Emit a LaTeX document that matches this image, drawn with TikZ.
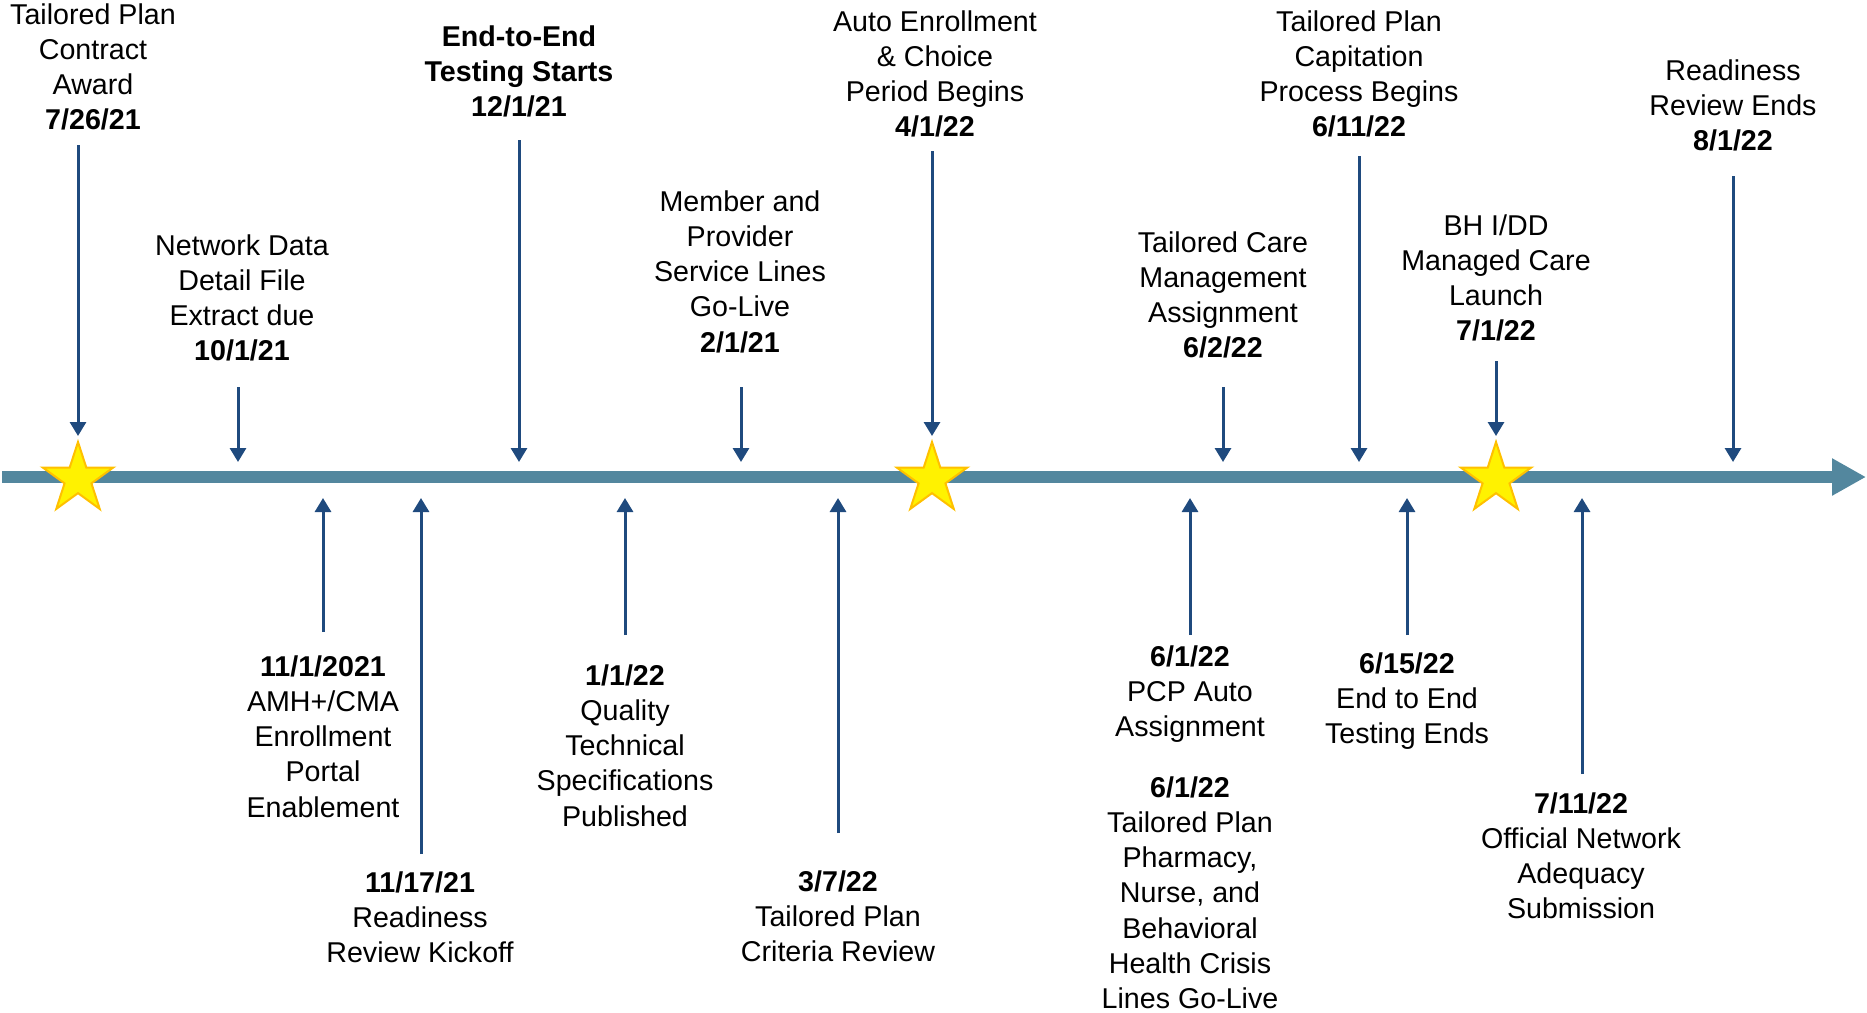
\documentclass[tikz,border=0pt]{standalone}
\usepackage{fontspec}
\setmainfont{Liberation Sans}
\usetikzlibrary{shapes.geometric}
\usetikzlibrary{arrows.meta}

\definecolor{barblue}{HTML}{53879E}
\definecolor{ptrblue}{HTML}{1F4A7E}
\definecolor{starline}{HTML}{FFC000}

\tikzset{
  timeline/.style={draw=barblue, line width=1.2mm, -{Triangle[width=3.5mm,length=3.4mm]}},
  ptrarrow/.style={draw=ptrblue, line width=0.3mm, -{Triangle[width=1.6mm,length=1.4mm]}},
  event/.style={align=center, inner sep=0pt, anchor=north, font=\fontsize{8.15}{10}\selectfont},
  bigstar/.style={star, star points=5, star point ratio=2.618, minimum size=7.4mm,
    inner sep=0pt, fill=yellow, draw=starline, line width=0.2mm}
}

\begin{document}
\begin{tikzpicture}[x=0.1mm, y=-0.1mm]
  \useasboundingbox (0,0) rectangle (1867,1012);

  % the time axis
  \coordinate (start) at (2,477);
  \coordinate (stop) at (1866,477);
  \draw[timeline] (start) -- (stop);

  % key dates
  \node[bigstar] (s1) at (78,479) {};
  \node[bigstar] (s2) at (932,479) {};
  \node[bigstar] (s3) at (1496,479) {};

  % above the line
  \node[event] (award) at (93,3) {Tailored Plan\\Contract\\Award\\\textbf{7/26/21}};
  \node[event] (extract) at (242,234) {Network Data\\Detail File\\Extract due\\\textbf{10/1/21}};
  \node[event] (teststart) at (519,25) {\textbf{End-to-End}\\\textbf{Testing Starts}\\\textbf{12/1/21}};
  \node[event] (servlines) at (740,190) {Member and\\Provider\\Service Lines\\Go-Live\\\textbf{2/1/21}};
  \node[event] (autoenr) at (935,10) {Auto Enrollment\\\& Choice\\Period Begins\\\textbf{4/1/22}};
  \node[event] (caremgmt) at (1223,231) {Tailored Care\\Management\\Assignment\\\textbf{6/2/22}};
  \node[event] (capitation) at (1359,10) {Tailored Plan\\Capitation\\Process Begins\\\textbf{6/11/22}};
  \node[event] (launch) at (1496,214) {BH I/DD\\Managed Care\\Launch\\\textbf{7/1/22}};
  \node[event] (reviewend) at (1733,59) {Readiness\\Review Ends\\\textbf{8/1/22}};

  % below the line
  \node[event] (portal) at (323,655) {\textbf{11/1/2021}\\AMH+/CMA\\Enrollment\\Portal\\Enablement};
  \node[event] (kickoff) at (420,871) {\textbf{11/17/21}\\Readiness\\Review Kickoff};
  \node[event] (quality) at (625,664) {\textbf{1/1/22}\\Quality\\Technical\\Specifications\\Published};
  \node[event] (criteria) at (838,870) {\textbf{3/7/22}\\Tailored Plan\\Criteria Review};
  \node[event] (pcp) at (1190,645) {\textbf{6/1/22}\\PCP Auto\\Assignment};
  \node[event] (crisis) at (1190,776) {\textbf{6/1/22}\\Tailored Plan\\Pharmacy,\\Nurse, and\\Behavioral\\Health Crisis\\Lines Go-Live};
  \node[event] (testend) at (1407,652) {\textbf{6/15/22}\\End to End\\Testing Ends};
  \node[event] (adequacy) at (1581,792) {\textbf{7/11/22}\\Official Network\\Adequacy\\Submission};

  % pointers from above
  \foreach \n/\x/\ya/\yb in {award/78/145/436, extract/238/387/462, teststart/519/140/462,
      servlines/741/387/462, autoenr/932/151/436, caremgmt/1223/387/462,
      capitation/1359/156/462, launch/1496/361/436, reviewend/1733/176/462}{
    \coordinate (\n-a) at (\x,\ya);
    \coordinate (\n-b) at (\x,\yb);
    \draw[ptrarrow] (\n-a) -- (\n-b);
  }

  % pointers from below
  \foreach \n/\x/\ya in {portal/323/632, kickoff/421/854, quality/625/635,
      criteria/838/833, pcp/1190/635, testend/1407/635, adequacy/1582/774}{
    \coordinate (\n-a) at (\x,\ya);
    \coordinate (\n-b) at (\x,498);
    \draw[ptrarrow] (\n-a) -- (\n-b);
  }
\end{tikzpicture}
\end{document}
